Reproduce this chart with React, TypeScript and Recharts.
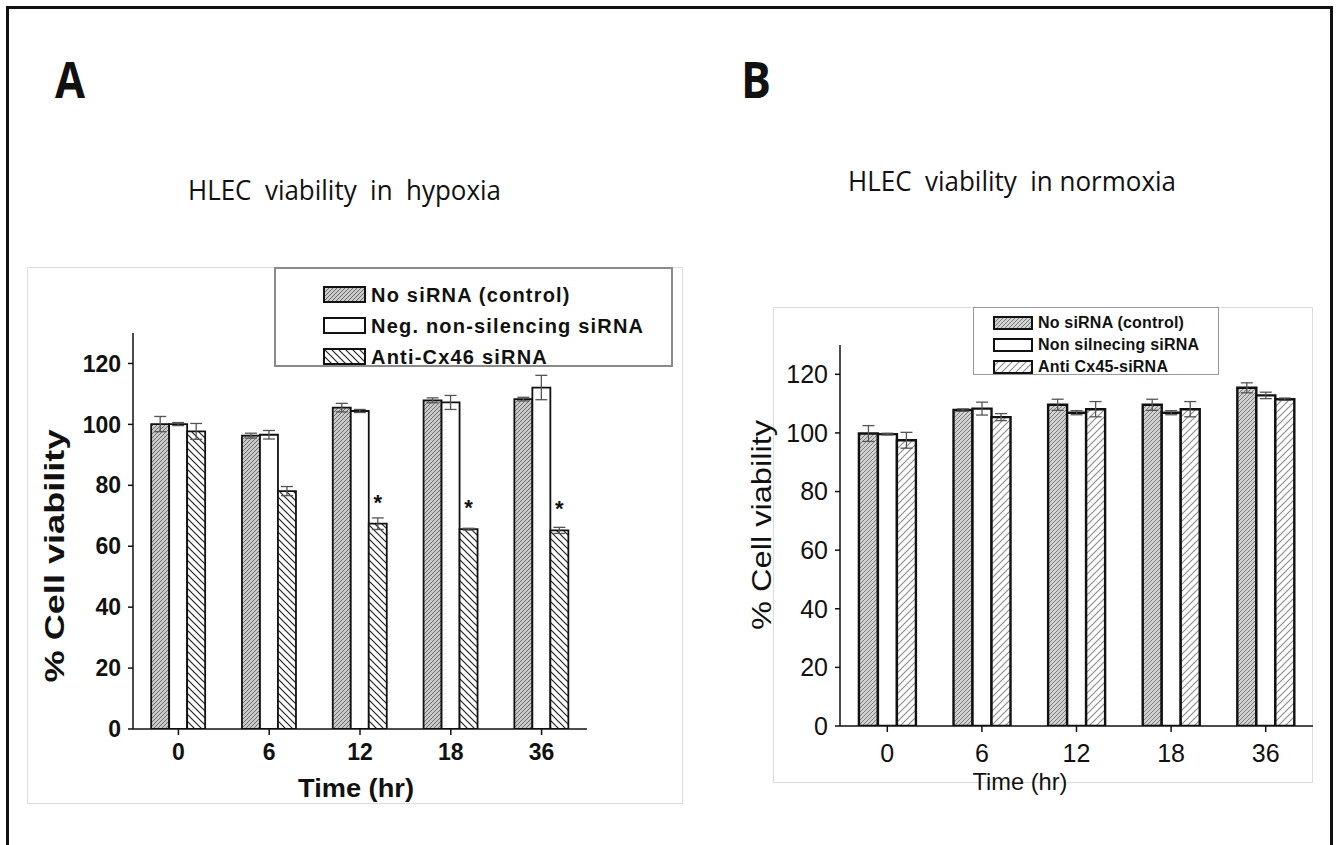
import { Bar, BarChart, ErrorBar, LabelList, XAxis, YAxis } from "recharts";

const hours = ["0", "6", "12", "18", "36"];
const yTicks = [0, 20, 40, 60, 80, 100, 120];

// A: hypoxia
const hypoxiaControl = [100.1, 96.3, 105.5, 107.9, 108.3];
const hypoxiaControlErr = [2.5, 0.8, 1.4, 0.8, 0.6];
const hypoxiaNeg = [100.1, 96.6, 104.4, 107.2, 112.1];
const hypoxiaNegErr = [0.5, 1.4, 0.5, 2.3, 4.0];
const hypoxiaAnti = [97.7, 78.1, 67.4, 65.6, 65.2];
const hypoxiaAntiErr = [2.6, 1.5, 1.9, 0.3, 1.0];
const hypoxiaSig = ["", "", "*", "*", "*"];

// B: normoxia
const normoxiaControl = [99.8, 107.8, 109.6, 109.6, 115.4];
const normoxiaControlErr = [2.7, 0.4, 1.9, 1.9, 1.7];
const normoxiaNon = [99.6, 108.3, 106.9, 106.9, 112.8];
const normoxiaNonErr = [0.3, 2.2, 0.7, 0.7, 1.1];
const normoxiaAnti = [97.5, 105.4, 108.1, 108.1, 111.5];
const normoxiaAntiErr = [2.7, 1.2, 2.6, 2.6, 0.4];

const legendA = ["No siRNA (control)", "Neg. non-silencing siRNA", "Anti-Cx46 siRNA"];
const legendB = ["No siRNA (control)", "Non silnecing siRNA", "Anti Cx45-siRNA"];

const hypoxiaRows = hours.map((h, i) => ({
  hour: h,
  s0: hypoxiaControl[i],
  e0: hypoxiaControlErr[i],
  s1: hypoxiaNeg[i],
  e1: hypoxiaNegErr[i],
  s2: hypoxiaAnti[i],
  e2: hypoxiaAntiErr[i],
  sig: hypoxiaSig[i],
}));

const normoxiaRows = hours.map((h, i) => ({
  hour: h,
  s0: normoxiaControl[i],
  e0: normoxiaControlErr[i],
  s1: normoxiaNon[i],
  e1: normoxiaNonErr[i],
  s2: normoxiaAnti[i],
  e2: normoxiaAntiErr[i],
  sig: "",
}));

const ARIAL = "'Liberation Sans', Arial, sans-serif";
const CALIBRI = "'Open Sans', 'Noto Sans', sans-serif";

const fillsA = ["url(#aCtrl)", "#ffffff", "url(#aAnti)"];
const fillsB = ["url(#bCtrl)", "#ffffff", "url(#bAnti)"];

function Star(props: any) {
  const { x, y, width, value } = props;
  if (!value) return null;
  return (
    <text
      x={x + width / 2}
      y={y - 14}
      textAnchor="middle"
      fontSize={22}
      fontWeight={700}
      fontFamily={ARIAL}
      fill="#111"
    >
      {value}
    </text>
  );
}

function Panel({
  rows,
  fills,
  width,
  height,
  margin,
  yWidth,
  bold,
  fontSize,
  barStroke,
  xTickMargin,
}: any) {
  const tick = {
    fontSize,
    fontWeight: bold ? 700 : 400,
    fill: "#111",
    fontFamily: ARIAL,
  };
  return (
    <BarChart
      width={width}
      height={height}
      data={rows}
      margin={margin}
      barCategoryGap="20%"
      barGap={0}
    >
      <XAxis
        dataKey="hour"
        height={40}
        tick={tick}
        tickSize={6}
        tickMargin={xTickMargin}
        axisLine={{ stroke: "#111", strokeWidth: 1.5 }}
        tickLine={{ stroke: "#111", strokeWidth: 1.5 }}
      />
      <YAxis
        domain={[0, 130]}
        ticks={yTicks}
        width={yWidth}
        tick={tick}
        tickSize={5}
        tickMargin={7}
        axisLine={{ stroke: "#111", strokeWidth: 1.5 }}
        tickLine={{ stroke: "#111", strokeWidth: 1.5 }}
        allowDataOverflow
      />
      {[0, 1, 2].map((k) => (
        <Bar
          key={k}
          dataKey={`s${k}`}
          fill={fills[k]}
          stroke="#111"
          strokeWidth={barStroke}
          isAnimationActive={false}
        >
          <ErrorBar
            dataKey={`e${k}`}
            width={6}
            stroke="#555"
            strokeWidth={1.3}
            direction="y"
            isAnimationActive={false}
          />
          {k === 2 && <LabelList dataKey="sig" content={Star} />}
        </Bar>
      ))}
    </BarChart>
  );
}

function Swatch({ fill, w, h }: any) {
  return (
    <svg width={w} height={h} style={{ position: "absolute", left: 0, top: 0 }}>
      <rect x={1} y={1} width={w - 2} height={h - 2} fill={fill} stroke="#111" strokeWidth={2} />
    </svg>
  );
}

function LegendBox({ left, top, width, height, items, fills, rowTops, swLeft, swW, swH, textLeft, fontSize, border, spacing }: any) {
  return (
    <div
      style={{
        position: "absolute",
        left,
        top,
        width,
        height,
        boxSizing: "border-box",
        border,
        background: "#fff",
      }}
    >
      {items.map((name: string, i: number) => (
        <div key={name} style={{ position: "absolute", top: rowTops[i], left: 0, height: swH }}>
          <div style={{ position: "absolute", left: swLeft, top: 0, width: swW, height: swH }}>
            <Swatch fill={fills[i]} w={swW} h={swH} />
          </div>
          <div
            style={{
              position: "absolute",
              left: textLeft,
              top: swH / 2 - fontSize * 0.6,
              whiteSpace: "nowrap",
              fontFamily: ARIAL,
              fontWeight: 700,
              fontSize,
              letterSpacing: spacing,
              lineHeight: `${fontSize * 1.2}px`,
              color: "#111",
            }}
          >
            {name}
          </div>
        </div>
      ))}
    </div>
  );
}

export default function App() {
  return (
    <div
      style={{
        position: "absolute",
        left: 0,
        top: 0,
        width: 1337,
        height: 845,
        overflow: "hidden",
        background: "#fff",
      }}
    >
      <svg width={0} height={0} style={{ position: "absolute" }}>
        <defs>
          <pattern id="aCtrl" patternUnits="userSpaceOnUse" width={4} height={4}>
            <rect width={4} height={4} fill="#cacaca" />
            <path d="M-1,1 l2,-2 M0,4 l4,-4 M3,5 l2,-2" stroke="#6a6a6a" strokeWidth={1} />
          </pattern>
          <pattern id="aAnti" patternUnits="userSpaceOnUse" width={7} height={7}>
            <rect width={7} height={7} fill="#fff" />
            <path d="M0,0 l7,7 M-1,6 l2,2 M6,-1 l2,2" stroke="#222" strokeWidth={1.2} />
          </pattern>
          <pattern id="bCtrl" patternUnits="userSpaceOnUse" width={4} height={4}>
            <rect width={4} height={4} fill="#d2d2d2" />
            <path d="M-1,1 l2,-2 M0,4 l4,-4 M3,5 l2,-2" stroke="#7a7a7a" strokeWidth={1} />
          </pattern>
          <pattern id="bAnti" patternUnits="userSpaceOnUse" width={7} height={7}>
            <rect width={7} height={7} fill="#fff" />
            <path d="M-1,1 l2,-2 M0,7 l7,-7 M6,8 l2,-2" stroke="#8a8a8a" strokeWidth={1.1} />
          </pattern>
        </defs>
      </svg>

      {/* outer frame, open at the bottom edge of the picture */}
      <div
        style={{
          position: "absolute",
          left: 6,
          top: 6,
          width: 1327,
          height: 860,
          boxSizing: "border-box",
          border: "3px solid #111",
        }}
      />

      {/* panel A */}
      <div
        style={{
          position: "absolute",
          left: 27,
          top: 267,
          width: 656,
          height: 537,
          boxSizing: "border-box",
          border: "1px solid #dcdcdc",
        }}
      >
        <div style={{ position: "absolute", left: -1, top: -1 }}>
          <Panel
            rows={hypoxiaRows}
            fills={fillsA}
            width={656}
            height={537}
            margin={{ top: 66, right: 96, bottom: 35, left: 0 }}
            yWidth={106}
            bold
            fontSize={23}
            barStroke={1.8}
            xTickMargin={9}
          />
        </div>
      </div>
      <LegendBox
        left={274}
        top={267}
        width={399}
        height={100}
        items={legendA}
        fills={fillsA}
        rowTops={[17, 48, 79]}
        swLeft={47}
        swW={43}
        swH={17}
        textLeft={95}
        fontSize={20}
        spacing={1.2}
        border="2px solid #8a8a8a"
      />

      {/* panel B */}
      <div
        style={{
          position: "absolute",
          left: 773,
          top: 307,
          width: 540,
          height: 476,
          boxSizing: "border-box",
          border: "1px solid #dcdcdc",
        }}
      >
        <div style={{ position: "absolute", left: -1, top: -1 }}>
          <Panel
            rows={normoxiaRows}
            fills={fillsB}
            width={540}
            height={476}
            margin={{ top: 38, right: 0, bottom: 17, left: 0 }}
            yWidth={67}
            bold={false}
            fontSize={25}
            barStroke={2.4}
            xTickMargin={12}
          />
        </div>
      </div>
      <LegendBox
        left={973}
        top={307}
        width={246}
        height={68}
        items={legendB}
        fills={fillsB}
        rowTops={[8, 30, 52]}
        swLeft={19}
        swW={40}
        swH={14}
        textLeft={64}
        fontSize={16}
        spacing={0.2}
        border="1.5px solid #999"
      />

      {/* titles and axis titles */}
      <svg
        width={1337}
        height={845}
        style={{ position: "absolute", left: 0, top: 0, pointerEvents: "none" }}
      >
        <text x={55} y={98} fontSize={50} fontWeight={700} fontFamily={CALIBRI} textLength={30} lengthAdjust="spacingAndGlyphs" fill="#111">
          A
        </text>
        <text x={741} y={98} fontSize={50} fontWeight={700} fontFamily={CALIBRI} textLength={30} lengthAdjust="spacingAndGlyphs" fill="#111">
          B
        </text>
        <text x={188} y={200} fontSize={27} fontFamily={CALIBRI} textLength={313} lengthAdjust="spacingAndGlyphs" style={{ whiteSpace: "pre" }} fill="#111">
          HLEC  viability  in  hypoxia
        </text>
        <text x={848} y={191} fontSize={27} fontFamily={CALIBRI} textLength={328} lengthAdjust="spacingAndGlyphs" style={{ whiteSpace: "pre" }} fill="#111">
          HLEC  viability  in normoxia
        </text>
        <text transform="translate(64,556) rotate(-90)" textAnchor="middle" fontSize={27} fontWeight={700} fontFamily={ARIAL} textLength={253} lengthAdjust="spacingAndGlyphs" fill="#111">
          % Cell viability
        </text>
        <text transform="translate(771,525) rotate(-90)" textAnchor="middle" fontSize={28} fontFamily={ARIAL} textLength={210} lengthAdjust="spacingAndGlyphs" fill="#111">
          % Cell viability
        </text>
        <text x={356} y={797} textAnchor="middle" fontSize={26} fontWeight={700} fontFamily={ARIAL} textLength={116} lengthAdjust="spacingAndGlyphs" fill="#111">
          Time (hr)
        </text>
        <text x={1020} y={790} textAnchor="middle" fontSize={24} fontFamily={ARIAL} textLength={95} lengthAdjust="spacingAndGlyphs" fill="#111">
          Time (hr)
        </text>
      </svg>
    </div>
  );
}
